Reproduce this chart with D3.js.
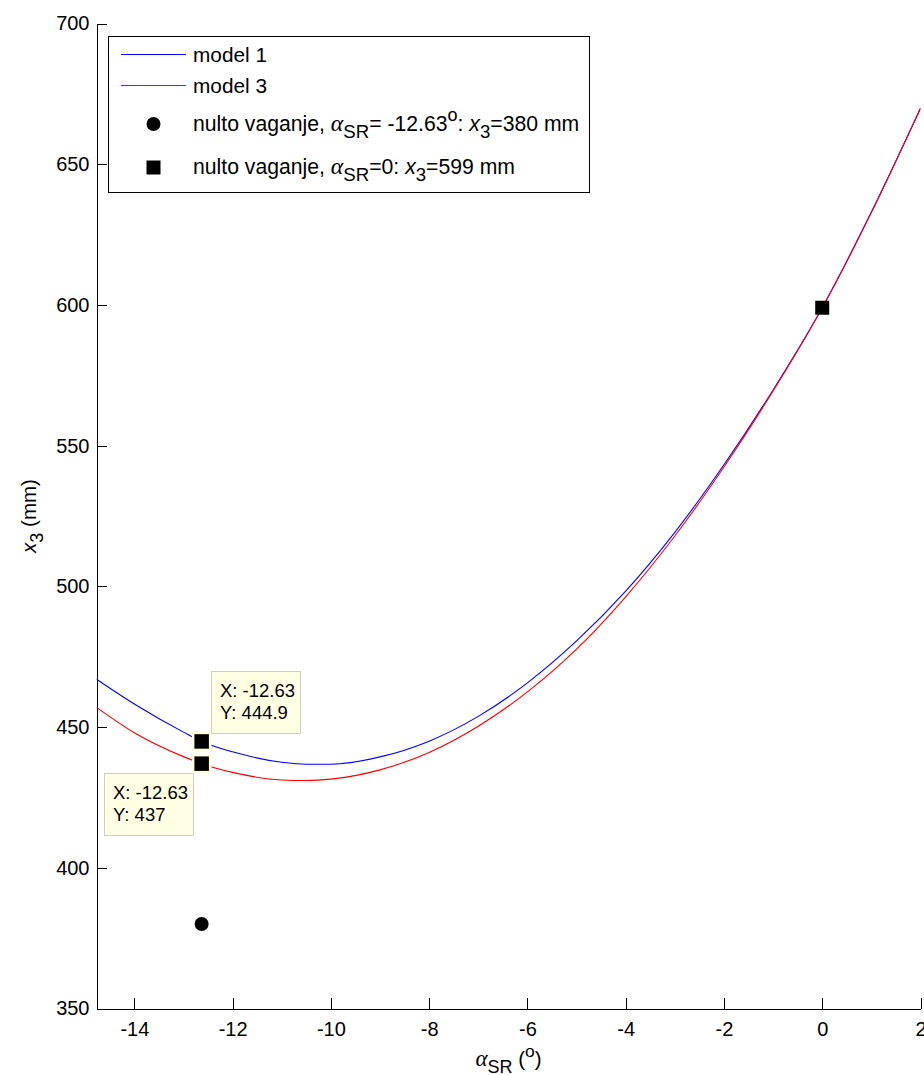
<!DOCTYPE html>
<html>
<head>
<meta charset="utf-8">
<script src="https://cdn.jsdelivr.net/npm/d3@7/dist/d3.min.js"></script>
<style>
  html, body { margin: 0; padding: 0; background: #fff; }
  svg { display: block; }
  text { font-family: "Liberation Sans", Arial, Helvetica, sans-serif; fill: #000; }
</style>
</head>
<body>
<svg id="chart" width="924" height="1075"></svg>
<script>
// Angle alpha_SR (degrees) and computed x3 (mm) for the two models
const alphaSR = [-14.77, -14, -13, -12.63, -12, -11, -10.5, -10, -9, -8, -7, -6, -5, -4, -3, -2, -1, 0, 1, 2];
const model1 = [467.0, 458.2, 448.2, 444.9, 441.2, 437.5, 436.8, 436.8, 439.4, 445.0, 453.8, 465.7, 480.6, 498.3, 519.2, 543.2, 569.8, 599.0, 633.0, 669.8];
const model3 = [457.0, 448.0, 439.5, 437.0, 433.9, 431.2, 431.0, 431.5, 434.8, 441.0, 450.3, 462.5, 477.7, 496.3, 517.9, 542.4, 569.4, 599.0, 632.8, 670.0];

// Null-weighing measurements
const nultoCircle = [{ a: -12.63, x3: 380 }];
const nultoSquare = [{ a: 0, x3: 599 }];

// Data tips on the two curves
const dataTips = [
  { a: -12.63, x3: 444.9, label: ["X: -12.63", "Y: 444.9"], side: "upright" },
  { a: -12.63, x3: 437, label: ["X: -12.63", "Y: 437"], side: "downleft" }
];

const xTicks = [-14, -12, -10, -8, -6, -4, -2, 0, 2];
const yTicks = [350, 400, 450, 500, 550, 600, 650, 700];

const svg = d3.select("#chart");
const plotL = 96.5, plotR = 920.5, plotT = 23.5, plotB = 1008.5;

const x = d3.scaleLinear().domain([-14.77, 2]).range([plotL, plotR]);
const y = d3.scaleLinear().domain([350, 700]).range([plotB, plotT]);

svg.append("defs").append("clipPath").attr("id", "plotclip")
  .append("rect").attr("x", plotL).attr("y", plotT).attr("width", plotR - plotL).attr("height", plotB - plotT);

// Axes (left and bottom only, ticks inward)
const yAxis = d3.axisLeft(y).tickValues(yTicks).tickFormat(d => String(d))
  .tickSizeInner(-10).tickSizeOuter(0).tickPadding(7);
const gy = svg.append("g").attr("transform", `translate(${plotL},0)`).call(yAxis);

const xAxis = d3.axisBottom(x).tickValues(xTicks).tickFormat(d => String(d))
  .tickSizeInner(-11).tickSizeOuter(0).tickPadding(13);
const gx = svg.append("g").attr("transform", `translate(0,${plotB})`).call(xAxis);

[gx, gy].forEach(g => {
  g.selectAll("path.domain").attr("stroke", "#000").attr("stroke-width", 1).attr("shape-rendering", "crispEdges");
  g.selectAll(".tick line").attr("stroke", "#000").attr("stroke-width", 1).attr("shape-rendering", "crispEdges");
  g.selectAll(".tick text").attr("font-size", 20).attr("fill", "#000")
    .attr("font-family", '"Liberation Sans", Arial, sans-serif');
});

// Rich text helper: parts with optional sub/sup and font styling
function rich(textSel, parts, base) {
  let offset = 0;
  parts.forEach(p => {
    const ts = textSel.append("tspan").text(p.t);
    let target = 0, fs = base;
    if (p.s === "sub") { target = base * 0.34; fs = base * 0.88; }
    if (p.s === "sup") { target = -base * 0.45; fs = base * 0.85; }
    ts.attr("dy", target - offset).attr("font-size", fs);
    offset = target;
    if (p.f === "greek") ts.attr("font-family", '"Liberation Serif", "DejaVu Serif", serif').attr("font-style", "italic").attr("font-size", base * 1.12);
    if (p.f === "it") ts.attr("font-style", "italic");
  });
}

// Curves
const line = d3.line().x(d => x(d[0])).y(d => y(d[1])).curve(d3.curveMonotoneX);
const plot = svg.append("g").attr("clip-path", "url(#plotclip)");
plot.append("path").datum(alphaSR.map((a, i) => [a, model1[i]]))
  .attr("d", line).attr("fill", "none").attr("stroke", "#0000ff").attr("stroke-width", 1.1);
plot.append("path").datum(alphaSR.map((a, i) => [a, model3[i]]))
  .attr("d", line).attr("fill", "none").attr("stroke", "#ff0000").attr("stroke-width", 1.1);

// Measurement markers
svg.selectAll("circle.nulto").data(nultoCircle).join("circle")
  .attr("cx", d => x(d.a)).attr("cy", d => y(d.x3)).attr("r", 7).attr("fill", "#000");
svg.selectAll("rect.nulto").data(nultoSquare).join("rect")
  .attr("x", d => x(d.a) - 7).attr("y", d => y(d.x3) - 7).attr("width", 14).attr("height", 14).attr("fill", "#000");

// Data tips
dataTips.forEach(t => {
  const cx = x(t.a), cy = y(t.x3);
  const bw = 89, bh = 62;
  const bx = t.side === "upright" ? cx + 9 : cx - 98;
  const by = t.side === "upright" ? cy - 70 : cy + 9;
  svg.append("rect").attr("x", Math.round(bx) + 0.5).attr("y", Math.round(by) + 0.5)
    .attr("width", bw).attr("height", bh)
    .attr("fill", "#ffffe4").attr("stroke", "#cfcfc0").attr("stroke-width", 1);
  t.label.forEach((s, i) => {
    svg.append("text").attr("x", Math.round(bx) + 9).attr("y", Math.round(by) + 25.5 + i * 22.7)
      .attr("font-size", 18.5).text(s);
  });
  svg.append("rect").attr("x", cx - 8.5).attr("y", cy - 8.5).attr("width", 17).attr("height", 17)
    .attr("fill", "#000").attr("stroke", "#ffffe0").attr("stroke-width", 2.5);
});

// Legend
const lg = svg.append("g");
lg.append("rect").attr("x", 108.5).attr("y", 36.5).attr("width", 481).attr("height", 156)
  .attr("fill", "#fff").attr("stroke", "#000").attr("stroke-width", 1);
lg.append("line").attr("x1", 121).attr("x2", 186).attr("y1", 54.5).attr("y2", 54.5).attr("stroke", "#0000ff").attr("stroke-width", 1);
lg.append("line").attr("x1", 121).attr("x2", 186).attr("y1", 85.5).attr("y2", 85.5).attr("stroke", "#ff0000").attr("stroke-width", 1);
lg.append("circle").attr("cx", 153.5).attr("cy", 124).attr("r", 7).attr("fill", "#000");
lg.append("rect").attr("x", 146.5).attr("y", 160.5).attr("width", 14).attr("height", 14).attr("fill", "#000");

lg.append("text").attr("x", 193).attr("y", 61.5).attr("font-size", 20.8).text("model 1");
lg.append("text").attr("x", 193).attr("y", 92.5).attr("font-size", 20.8).text("model 3");
rich(lg.append("text").attr("x", 193).attr("y", 130.5).attr("font-size", 21.2), [
  { t: "nulto vaganje, " }, { t: "α", f: "greek" }, { t: "SR", s: "sub" },
  { t: "= -12.63" }, { t: "o", s: "sup" }, { t: ": " }, { t: "x", f: "it" },
  { t: "3", s: "sub" }, { t: "=380 mm" }
], 21.2);
rich(lg.append("text").attr("x", 193).attr("y", 173.5).attr("font-size", 21.2), [
  { t: "nulto vaganje, " }, { t: "α", f: "greek" }, { t: "SR", s: "sub" },
  { t: "=0: " }, { t: "x", f: "it" }, { t: "3", s: "sub" }, { t: "=599 mm" }
], 21.2);

// Axis titles
rich(svg.append("text").attr("x", (plotL + plotR) / 2).attr("y", 1066).attr("text-anchor", "middle").attr("font-size", 20.5), [
  { t: "α", f: "greek" }, { t: "SR", s: "sub" }, { t: " (" }, { t: "o", s: "sup" }, { t: ")" }
], 20.5);
rich(svg.append("text").attr("transform", `translate(36,${(plotT + plotB) / 2}) rotate(-90)`)
  .attr("text-anchor", "middle").attr("font-size", 20.5), [
  { t: "x", f: "it" }, { t: "3", s: "sub" }, { t: " (mm)" }
], 20.5);
</script>
</body>
</html>
